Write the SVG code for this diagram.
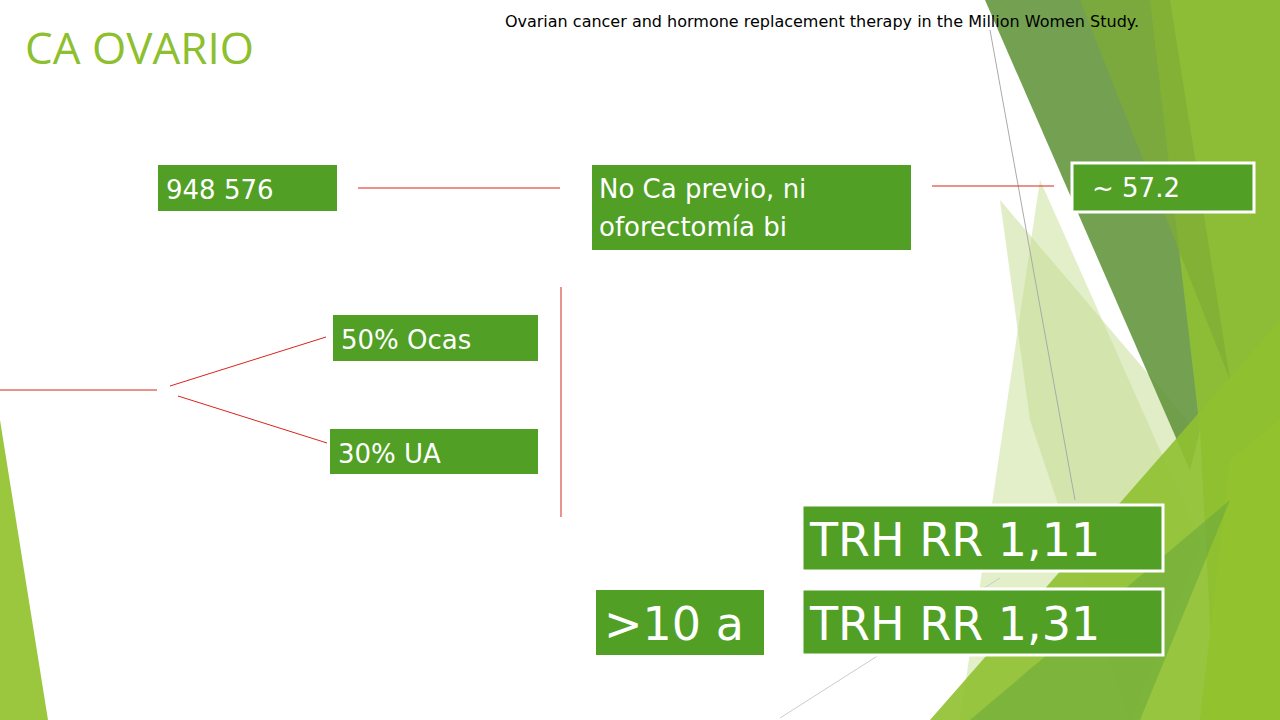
<svg xmlns="http://www.w3.org/2000/svg" width="1280" height="720" viewBox="0 0 1280 720">
<style>
.box{fill:#519f25}
.wb{stroke:#fff;stroke-width:3}
.t{font-family:"DejaVu Sans",sans-serif;fill:#fff}
.ln{stroke:#d9241b;stroke-width:1;fill:none}
</style>
<rect width="1280" height="720" fill="#fff"/>
<g id="background">
<polygon points="0,420 48,720 0,720" fill="#9bc73f"/>
<polygon points="1040,180 1280,720 960,720" fill="#cfe5a3" opacity="0.6"/>
<polygon points="1000,200 1230,470 1130,720 1030,420" fill="#c3dc8f" opacity="0.5"/>
<polygon points="985,0 1160,0 1200,430 1190,470" fill="#5c8f34" opacity="0.85"/>
<polygon points="1150,0 1280,0 1280,720 1215,720 1200,430" fill="#8dbd36"/>
<polygon points="1080,0 1170,0 1230,380" fill="#7fad35" opacity="0.7"/>
<polygon points="1280,320 1280,720 930,720" fill="#8fc030" opacity="0.9"/>
<polygon points="1230,460 1280,420 1280,720 1200,720" fill="#92c22e"/>
<polygon points="970,720 1230,500 1140,720" fill="#6aa83a" opacity="0.6"/>
<line x1="990" y1="30" x2="1075" y2="500" stroke="#aaa" stroke-width="1"/>
<line x1="780" y1="718" x2="1000" y2="578" stroke="#ccc" stroke-width="1"/>
</g>
<text x="25" y="64" font-family="'Open Sans',sans-serif" font-size="44" fill="#8dbf2e">CA OVARIO</text>
<text x="822" y="27" text-anchor="middle" font-family="'DejaVu Sans',sans-serif" font-size="16" fill="#000">Ovarian cancer and hormone replacement therapy in the Million Women Study.</text>
<g id="connectors">
<line class="ln" x1="358" y1="188" x2="560" y2="188"/>
<line class="ln" x1="932" y1="186" x2="1054" y2="186"/>
<line class="ln" x1="561" y1="287" x2="561" y2="517"/>
<line class="ln" x1="0" y1="390" x2="157" y2="390"/>
<line class="ln" x1="170" y1="386" x2="326" y2="337"/>
<line class="ln" x1="178" y1="396" x2="327" y2="443"/>
</g>
<g id="n1"><rect class="box" x="158" y="165" width="179" height="46"/><text class="t" x="166" y="199" font-size="26">948 576</text></g>
<g id="n2"><rect class="box" x="592" y="165" width="319" height="85"/><text class="t" x="599" y="198" font-size="26">No Ca previo, ni</text><text class="t" x="599" y="236" font-size="26">oforectomía bi</text></g>
<g id="n3"><rect class="box wb" x="1072" y="163" width="182" height="49"/><text class="t" x="1092" y="197" font-size="26">~ 57.2</text></g>
<g id="n4"><rect class="box" x="333" y="315" width="205" height="46"/><text class="t" x="341" y="349" font-size="26">50% Ocas</text></g>
<g id="n5"><rect class="box" x="330" y="429" width="208" height="45"/><text class="t" x="338" y="463" font-size="26">30% UA</text></g>
<g id="n6"><rect class="box wb" x="802" y="505" width="361" height="66"/><text class="t" x="810" y="556" font-size="46">TRH  RR 1,11</text></g>
<g id="n7"><rect class="box" x="596" y="590" width="168" height="65"/><text class="t" x="604" y="640" font-size="46">&gt;10 a</text></g>
<g id="n8"><rect class="box wb" x="802" y="589" width="361" height="66"/><text class="t" x="810" y="640" font-size="46">TRH  RR 1,31</text></g>
</svg>
